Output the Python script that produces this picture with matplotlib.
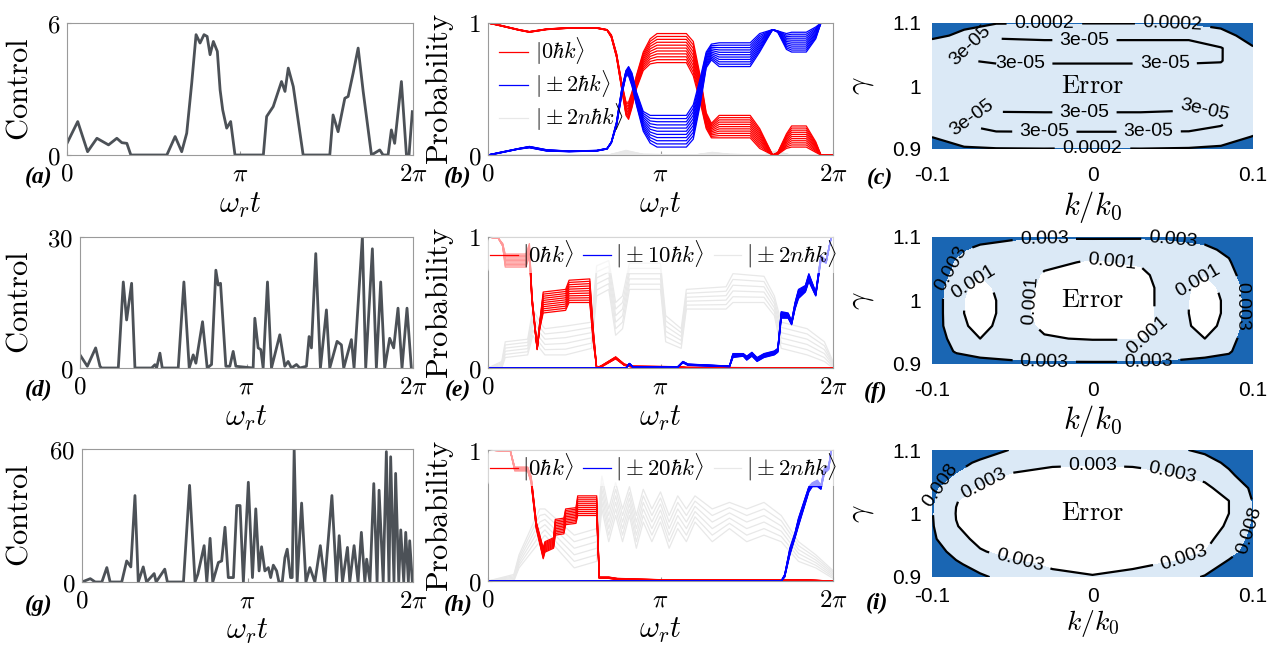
import numpy as np
import matplotlib
matplotlib.use("Agg")
import matplotlib.pyplot as plt
from matplotlib.lines import Line2D

plt.rcParams["mathtext.fontset"] = "cm"

# ---------------- control pulses (t in units of pi) ----------------
ctrl_a_t = [0, 0.062, 0.119, 0.173, 0.24, 0.288, 0.317, 0.346, 0.369, 0.577, 0.625, 0.663,
            0.692, 0.721, 0.746, 0.769, 0.792, 0.81, 0.827, 0.846, 0.869, 0.885, 0.9, 0.923,
            0.946, 0.971, 1.135, 1.154, 1.192, 1.24, 1.26, 1.279, 1.308, 1.365, 1.519, 1.538,
            1.567, 1.606, 1.625, 1.654, 1.683, 1.712, 1.76, 1.808, 1.827, 1.856, 1.875, 1.894,
            1.933, 1.962, 1.977, 1.996]
ctrl_a_v = [0.53, 1.52, 0.15, 0.76, 0.46, 0.76, 0.56, 0.53, 0, 0, 0.84, 0.15,
            0.99, 3.27, 5.47, 5.09, 5.47, 5.39, 4.56, 5.16, 4.71, 2.96, 2.05, 1.22,
            1.52, 0, 0, 1.75, 2.2, 3.34, 2.89, 3.95, 3.11, 0, 0, 1.82,
            1.06, 2.58, 2.66, 3.72, 4.86, 2.89, 0, 0.23, 0, 0, 1.14, 0.53,
            3.34, 0, 0, 1.97]

ctrl_d_t = [0, 0.044, 0.094, 0.12, 0.13, 0.23, 0.26, 0.28, 0.31, 0.33, 0.43, 0.45, 0.46,
            0.48, 0.494, 0.59, 0.624, 0.656, 0.68, 0.696, 0.736, 0.764, 0.79, 0.816, 0.83,
            0.844, 0.876, 0.9, 0.92, 0.936, 1.04, 1.05, 1.07, 1.086, 1.1, 1.126, 1.15, 1.2,
            1.23, 1.25, 1.27, 1.3, 1.32, 1.36, 1.376, 1.39, 1.416, 1.444, 1.48, 1.5, 1.544,
            1.57, 1.584, 1.63, 1.646, 1.696, 1.716, 1.756, 1.78, 1.806, 1.83, 1.86, 1.884,
            1.91, 1.934, 1.964, 1.99]
ctrl_d_v = [3.0, 0.4, 4.6, 0.4, 0, 0, 19.7, 11, 19.4, 0, 0, 0.76, 0,
            3.4, 0, 0, 19.7, 0, 3.0, 1.1, 10.6, 0, 0.8, 22.4, 19,
            19.4, 0.4, 0.4, 3.8, 0.4, 0, 11.4, 4.6, 4.2, 0, 19.7, 0, 7.6,
            0.4, 1.5, 0, 0.8, 0, 0.4, 7.2, 4.6, 26.2, 0, 13.3, 0, 6.1,
            5.3, 0, 6.5, 0, 30, 0, 27.3, 0, 19.7, 0, 6.8, 4.6,
            13.7, 0, 13.7, 0]

ctrl_g_t = [0, 0.05, 0.08, 0.12, 0.15, 0.17, 0.24, 0.27, 0.295, 0.32, 0.34, 0.37, 0.39,
            0.436, 0.448, 0.5, 0.516, 0.613, 0.65, 0.683, 0.7, 0.738, 0.754, 0.774, 0.79,
            0.824, 0.844, 0.864, 0.884, 0.915, 0.935, 0.955, 0.975, 1.005, 1.03, 1.05, 1.07,
            1.085, 1.105, 1.126, 1.14, 1.156, 1.176, 1.19, 1.21, 1.226, 1.24, 1.26, 1.27,
            1.282, 1.3, 1.327, 1.353, 1.377, 1.407, 1.44, 1.467, 1.51, 1.538, 1.554, 1.574,
            1.604, 1.618, 1.644, 1.668, 1.688, 1.709, 1.72, 1.74, 1.763, 1.783, 1.795, 1.82,
            1.839, 1.855, 1.865, 1.885, 1.895, 1.914, 1.926, 1.944, 1.956, 1.972, 1.98, 1.996]
ctrl_g_v = [0, 1.5, 0, 0, 6.5, 0, 0, 9.5, 6.8, 39, 0, 6.8, 0,
            3.8, 0, 5.8, 0, 0, 43.6, 0, 3.5, 16.4, 0, 19.7, 0,
            8.8, 9.5, 24.7, 2.0, 2.0, 34.5, 34.5, 0, 45, 2, 33, 5,
            15.9, 5, 6.5, 2, 7.6, 5, 0, 0, 11, 14.8, 2, 2,
            60, 0, 35.6, 0, 6.5, 0, 16.4, 0, 39, 0, 20.9, 0,
            15.6, 0, 16.4, 0, 22.4, 0, 10.3, 0, 44.4, 0, 41.4, 0,
            58.8, 0, 56.5, 0, 49, 0, 23.5, 0, 22.4, 0, 18.6, 0]

# ---------------- probability families: keypoints t/pi, lower and upper member ----------------
b_red_t = [0, 0.05, 0.18, 0.24, 0.34, 0.47, 0.63, 0.69, 0.715, 0.745, 0.775, 0.8, 0.815, 0.835,
           0.86, 0.9, 0.94, 0.98, 1.15, 1.19, 1.23, 1.265, 1.295, 1.34, 1.52, 1.575, 1.65,
           1.68, 1.73, 1.76, 1.845, 1.9, 1.93, 2.0]
b_red_lo = [1, 0.985, 0.945, 0.93, 0.95, 0.96, 0.96, 0.945, 0.89, 0.74, 0.5, 0.3, 0.27, 0.36,
            0.5, 0.64, 0.69, 0.7, 0.7, 0.6, 0.4, 0.2, 0.13, 0.13, 0.13, 0.05, 0.0,
            0.005, 0.05, 0.06, 0.06, 0.02, 0.0, 0.0]
b_red_hi = [1, 0.99, 0.95, 0.935, 0.955, 0.965, 0.965, 0.95, 0.91, 0.77, 0.55, 0.4, 0.4, 0.48,
            0.6, 0.78, 0.88, 0.92, 0.92, 0.86, 0.6, 0.32, 0.24, 0.3, 0.3, 0.2, 0.0,
            0.02, 0.16, 0.22, 0.22, 0.1, 0.0, 0.0]
b_blue_t = b_red_t
b_blue_lo = [0, 0.01, 0.045, 0.055, 0.03, 0.025, 0.03, 0.045, 0.09, 0.22, 0.45, 0.6, 0.6, 0.52,
             0.38, 0.18, 0.09, 0.06, 0.06, 0.12, 0.38, 0.66, 0.72, 0.67, 0.67, 0.78, 0.95,
             0.93, 0.8, 0.78, 0.78, 0.88, 1.0, 1.0]
b_blue_hi = [0, 0.015, 0.05, 0.065, 0.04, 0.03, 0.035, 0.05, 0.1, 0.25, 0.5, 0.64, 0.67, 0.62,
             0.48, 0.33, 0.3, 0.3, 0.3, 0.38, 0.58, 0.78, 0.84, 0.85, 0.85, 0.92, 0.95,
             0.94, 0.92, 0.93, 0.93, 0.97, 1.0, 1.0]
b_gray_t = [0, 0.7, 0.8, 0.9, 1.2, 1.3, 1.4, 1.6, 1.67, 1.75, 2.0]
b_gray_lo = [0, 0, 0, 0, 0, 0, 0, 0, 0, 0, 0]
b_gray_hi = [0, 0, 0.035, 0.005, 0, 0.02, 0.005, 0, 0.03, 0, 0]

e_red_t = [0, 0.06, 0.085, 0.1, 0.22, 0.24, 0.255, 0.285, 0.3, 0.32, 0.45, 0.47, 0.59, 0.61,
           0.63, 0.66, 0.74, 0.79, 0.84, 1.1, 1.15, 2.0]
e_red_lo = [1, 0.99, 0.93, 0.77, 0.77, 0.85, 0.5, 0.14, 0.3, 0.42, 0.44, 0.5, 0.5, 0.2,
            0.0, 0.01, 0.07, 0.02, 0.005, 0.005, 0.0, 0.0]
e_red_hi = [1, 0.99, 0.95, 0.87, 0.87, 0.95, 0.55, 0.16, 0.35, 0.58, 0.6, 0.67, 0.68, 0.3,
            0.0, 0.02, 0.085, 0.03, 0.015, 0.01, 0.005, 0.0]
e_blue_t = [0, 0.8, 0.82, 0.84, 1.1, 1.13, 1.16, 1.4, 1.42, 1.48, 1.5, 1.53, 1.56, 1.6, 1.66,
            1.68, 1.7, 1.74, 1.76, 1.78, 1.8, 1.84, 1.86, 1.9, 1.93, 1.96, 1.99, 2.0]
e_blue_lo = [0, 0, 0.03, 0.005, 0.005, 0.04, 0.02, 0.01, 0.08, 0.09, 0.06, 0.09, 0.05, 0.08, 0.1,
             0.12, 0.38, 0.38, 0.33, 0.45, 0.53, 0.58, 0.66, 0.55, 0.82, 0.8, 1.0, 1.0]
e_blue_hi = [0, 0, 0.035, 0.01, 0.01, 0.05, 0.03, 0.015, 0.11, 0.11, 0.09, 0.12, 0.08, 0.11, 0.13,
             0.15, 0.43, 0.42, 0.36, 0.5, 0.6, 0.63, 0.72, 0.58, 0.86, 0.82, 1.0, 1.0]
e_gray_t = [0, 0.08, 0.1, 0.23, 0.26, 0.3, 0.33, 0.45, 0.6, 0.63, 0.7, 0.74, 0.78, 0.82, 1.0,
            1.03, 1.12, 1.15, 1.38, 1.42, 1.6, 1.66, 1.7, 1.85, 1.95, 2.0]
e_gray_lo = [0, 0, 0.08, 0.1, 0.25, 0.15, 0.1, 0.1, 0.15, 0.55, 0.6, 0.25, 0.3, 0.6, 0.6,
             0.2, 0.15, 0.45, 0.45, 0.5, 0.5, 0.4, 0.15, 0.1, 0.05, 0.0]
e_gray_hi = [0, 0.05, 0.2, 0.22, 0.45, 0.35, 0.3, 0.32, 0.35, 0.78, 0.82, 0.5, 0.55, 0.8, 0.8,
             0.4, 0.3, 0.6, 0.62, 0.72, 0.7, 0.55, 0.35, 0.3, 0.2, 0.05]

h_red_t = [0, 0.13, 0.155, 0.23, 0.25, 0.28, 0.32, 0.33, 0.38, 0.39, 0.44, 0.45, 0.51, 0.52,
           0.63, 0.645, 0.7, 0.75, 1.0, 1.8, 2.0]
h_red_lo = [1, 0.99, 0.84, 0.84, 0.75, 0.4, 0.17, 0.22, 0.25, 0.35, 0.36, 0.43, 0.44, 0.5,
            0.5, 0.02, 0.02, 0.01, 0.005, 0.005, 0.0]
h_red_hi = [1, 0.99, 0.87, 0.87, 0.8, 0.45, 0.25, 0.3, 0.33, 0.47, 0.48, 0.55, 0.56, 0.65,
            0.65, 0.03, 0.03, 0.02, 0.01, 0.01, 0.0]
h_blue_t = [0, 1.7, 1.72, 1.75, 1.78, 1.8, 1.83, 1.86, 1.88, 1.91, 1.93, 1.95, 1.975, 1.99, 2.0]
h_blue_lo = [0, 0, 0.03, 0.2, 0.33, 0.42, 0.55, 0.68, 0.72, 0.72, 0.7, 0.82, 0.85, 1.0, 1.0]
h_blue_hi = [0, 0, 0.05, 0.25, 0.37, 0.48, 0.6, 0.72, 0.75, 0.77, 0.73, 0.86, 0.88, 1.0, 1.0]
h_gray_t = [0, 0.15, 0.18, 0.3, 0.33, 0.5, 0.63, 0.66, 0.7, 0.74, 0.78, 0.82, 0.86, 0.9, 0.95,
            1.0, 1.05, 1.1, 1.15, 1.2, 1.3, 1.4, 1.5, 1.6, 1.7, 1.8, 1.9, 2.0]
h_gray_lo = [0, 0, 0.1, 0.3, 0.35, 0.1, 0.15, 0.55, 0.3, 0.5, 0.3, 0.5, 0.25, 0.45, 0.3,
             0.45, 0.25, 0.4, 0.3, 0.45, 0.3, 0.4, 0.3, 0.35, 0.3, 0.15, 0.1, 0.02]
h_gray_hi = [0, 0.05, 0.2, 0.55, 0.55, 0.35, 0.4, 0.8, 0.55, 0.75, 0.55, 0.72, 0.5, 0.7, 0.55,
             0.68, 0.5, 0.65, 0.55, 0.65, 0.55, 0.6, 0.55, 0.6, 0.5, 0.3, 0.2, 0.08]

# ---------------- error maps ----------------
c_k = [-0.1, -0.08, -0.06, -0.03, 0, 0.03, 0.06, 0.08, 0.1]
c_g = [0.90, 0.92, 0.94, 0.96, 0.98, 1.00, 1.02, 1.04, 1.06, 1.08, 1.10]
c_err_1e5 = [
    [45, 26, 22, 21, 22, 21, 23, 30, 45],
    [19, 6, 4.5, 4.5, 4.5, 4.5, 4.6, 6, 21],
    [8, 2.8, 1.6, 1.5, 1.5, 1.5, 1.6, 2.6, 9],
    [9, 3.4, 3.1, 3.2, 3.2, 3.2, 2.9, 2.9, 9],
    [11, 6, 6, 6, 6, 6, 6, 6, 11],
    [12, 7, 7, 7, 7, 7, 7, 7, 12],
    [11, 5, 5, 5, 5, 5, 5, 5, 11],
    [8, 3.2, 2.6, 2.6, 2.6, 2.6, 2.6, 2.8, 10],
    [7, 2.8, 1.2, 1.2, 1.2, 1.2, 1.2, 2.7, 18],
    [30, 14, 4, 5, 5, 5, 5, 12, 35],
    [45, 30, 22, 21, 21, 21, 22, 30, 60],
]

f_k = [-0.1, -0.085, -0.07, -0.05, -0.03, 0, 0.03, 0.05, 0.07, 0.085, 0.1]
f_g = [0.90, 0.92, 0.94, 0.96, 0.98, 1.00, 1.02, 1.04, 1.06, 1.08, 1.10]
f_err_1e3 = [
    [6, 4.2, 3.6, 3.3, 3.2, 3.2, 3.2, 3.3, 3.6, 4.2, 6],
    [4.5, 2.8, 2.4, 2.3, 2.1, 2.0, 2.0, 2.2, 2.4, 2.7, 5],
    [4.5, 2.1, 1.0, 1.6, 1.1, 0.9, 0.9, 1.6, 1.0, 2.2, 4.5],
    [4.5, 1.3, 0.7, 1.5, 0.8, 0.5, 0.7, 1.4, 0.7, 1.3, 4.5],
    [4.5, 1.2, 0.6, 1.4, 0.7, 0.4, 0.7, 1.4, 0.6, 1.2, 4.5],
    [4.5, 1.2, 0.6, 1.4, 0.7, 0.4, 0.7, 1.4, 0.6, 1.2, 4.5],
    [4.5, 1.3, 0.7, 1.5, 0.8, 0.5, 0.7, 1.4, 0.7, 1.3, 4.5],
    [4.5, 2.3, 1.0, 1.6, 0.9, 0.6, 0.8, 1.5, 1.0, 2.3, 4.5],
    [4.5, 2.8, 2.0, 1.8, 1.2, 0.9, 1.1, 1.7, 2.0, 2.8, 5],
    [5, 3.3, 2.6, 2.4, 1.8, 1.3, 1.8, 2.4, 2.6, 3.4, 5.5],
    [6, 4.5, 3.6, 3.2, 3.2, 3.3, 3.2, 3.2, 3.6, 4.5, 6],
]

i_k = [-0.1, -0.085, -0.07, -0.05, -0.025, 0, 0.025, 0.05, 0.07, 0.085, 0.1]
i_g = [0.90, 0.92, 0.94, 0.96, 0.98, 1.00, 1.02, 1.04, 1.06, 1.08, 1.10]
i_err_1e3 = [
    [20, 14, 9, 5.5, 3.5, 3.1, 3.5, 5, 8.5, 13, 20],
    [15, 9, 5.5, 3.5, 2.7, 2.5, 2.7, 3.2, 4.5, 9.5, 15],
    [11, 6, 3.2, 2.2, 1.9, 1.8, 1.9, 2.2, 3.0, 5.5, 11],
    [9, 3.8, 2.4, 1.7, 1.5, 1.4, 1.5, 1.8, 2.4, 4.0, 9.5],
    [8.4, 3.1, 2.0, 1.5, 1.3, 1.2, 1.3, 1.6, 2.0, 3.3, 8.5],
    [8.2, 2.9, 1.9, 1.5, 1.3, 1.2, 1.3, 1.5, 1.9, 3.0, 8.1],
    [8.5, 3.1, 2.0, 1.6, 1.4, 1.3, 1.4, 1.6, 2.0, 3.0, 8.2],
    [9, 4.5, 2.6, 2.2, 1.8, 1.7, 1.8, 2.2, 2.5, 4.0, 9],
    [11, 7.5, 4.5, 2.5, 2.4, 2.3, 2.4, 2.7, 3.6, 7, 11],
    [15, 10, 7, 5, 3.3, 3.2, 3.3, 4, 6, 9, 14],
    [20, 15, 11, 7.6, 5, 4.2, 5, 7, 9, 13, 18],
]

# where the contour labels sit
c_label_at = [(-0.03, 1.099), (0.05, 1.099), (0.0, 0.902),
              (-0.075, 1.055), (-0.005, 1.068), (-0.045, 1.037), (0.045, 1.037),
              (-0.075, 0.945), (-0.005, 0.962), (0.07, 0.955), (-0.03, 0.927), (0.035, 0.927)]
f_label_at = [(-0.03, 1.095), (0.05, 1.093), (-0.088, 1.05), (0.091, 0.99),
              (-0.03, 0.906), (0.035, 0.906),
              (0.012, 1.063), (-0.04, 1.0), (0.035, 0.943), (-0.07, 1.02), (0.066, 1.03)]
i_label_at = [(0.0, 1.077), (0.05, 1.068), (-0.068, 1.048), (-0.045, 0.93), (0.055, 0.945),
              (-0.095, 1.045), (0.095, 0.975)]

W, H = 1276, 645
DARK = "#1a66b3"
LIGHT = "#dbe9f6"
CTRL = "#4c5157"
SPINE = "#9a9a9a"
GRAY = "#e8e8e8"

fig = plt.figure(figsize=(W / 100, H / 100), dpi=100)


def add_ax(x0, y0, x1, y1):
    return fig.add_axes([x0 / W, 1 - y1 / H, (x1 - x0) / W, (y1 - y0) / H])


def time_axis(ax, box, ytop, ylabel, ylab_x, xlab_top):
    x0, y0, x1, y1 = box
    ax.set_xlim(0, 2 * np.pi)
    ax.set_ylim(0, ytop)
    ax.set_xticks([0, np.pi, 2 * np.pi])
    ax.set_xticklabels(["$0$", r"$\pi$", r"$2\pi$"], fontsize=18)
    ax.set_yticks([0, ytop])
    ax.set_yticklabels(["$0$", f"${ytop}$"], fontsize=18)
    ax.tick_params(direction="in", length=3, color=SPINE, pad=5)
    ax.tick_params(axis="x", pad=5)
    for s in ax.spines.values():
        s.set_color(SPINE)
        s.set_linewidth(0.8)
    ax.set_ylabel(ylabel, fontsize=22)
    ax.yaxis.set_label_coords(ylab_x / W, 1 - (y0 + y1) / 2 / H, transform=fig.transFigure)
    ax.set_xlabel(r"$\omega_r t$", fontsize=22)
    ax.xaxis.set_label_coords((x0 + x1) / 2 / W, 1 - xlab_top / H, transform=fig.transFigure)


def family(ax, t, lo, hi, color, n=11, lw=0.9):
    t = np.asarray(t) * np.pi
    lo = np.asarray(lo)
    hi = np.asarray(hi)
    for j in range(n):
        f = j / (n - 1)
        ax.plot(t, lo + f * (hi - lo), color=color, lw=lw)


def error_axis(ax, box, ylab_x, xlab_top, xpad=12, xlab_size=22):
    x0, y0, x1, y1 = box
    ax.set_xlim(-0.1, 0.1)
    ax.set_ylim(0.9, 1.1)
    ax.set_xticks([-0.1, 0, 0.1])
    ax.set_xticklabels(["-0.1", "0", "0.1"], fontsize=15, family="Liberation Sans")
    ax.set_yticks([0.9, 1.0, 1.1])
    ax.set_yticklabels(["0.9", "1", "1.1"], fontsize=15, family="Liberation Sans")
    ax.tick_params(length=0, pad=8)
    ax.tick_params(axis="x", pad=xpad)
    for s in ax.spines.values():
        s.set_visible(False)
    ax.set_ylabel(r"$\gamma$", fontsize=22)
    ax.yaxis.set_label_coords(ylab_x / W, 1 - (y0 + y1) / 2 / H, transform=fig.transFigure)
    ax.set_xlabel(r"$k/k_0$", fontsize=xlab_size)
    ax.xaxis.set_label_coords((x0 + x1) / 2 / W, 1 - xlab_top / H, transform=fig.transFigure)
    ax.text(0, 1.0, r"$\mathrm{Error}$", ha="center", va="center", fontsize=19)


def error_map(ax, k, g, z, lines, fills, labels, where, log=False):
    K, G = np.meshgrid(k, g)
    Z = np.asarray(z, dtype=float)
    if log:
        Z = np.log10(Z)
        lines = list(np.log10(lines))
        fills = list(np.log10(fills))
    lv = [Z.min() - 1] + fills + [Z.max() + 1]
    cols = [LIGHT, DARK] if len(fills) == 1 else ["white", LIGHT, DARK]
    ax.contourf(K, G, Z, levels=lv, colors=cols)
    cs = ax.contour(K, G, Z, levels=lines, colors="k", linewidths=1.6, linestyles="solid")
    fmt = {lvl: lab for lvl, lab in zip(cs.levels, labels)}
    txts = ax.clabel(cs, fmt=fmt, fontsize=14, inline=True, inline_spacing=4, manual=where)
    for t in txts:
        t.set_fontfamily("Liberation Sans")
        t.set_clip_on(False)


def prob_legend(ax, labels):
    ax.legend(hl, labels, loc="upper left", bbox_to_anchor=(0.0, 1.0), ncol=3, fontsize=16.5,
              frameon=True, framealpha=0.6, edgecolor="none", facecolor="white",
              handlelength=1.2, handletextpad=0.2, columnspacing=0.4, borderaxespad=0.0,
              borderpad=0.1)


# ---------------- row 1 ----------------
box = (67, 23, 413, 155)
ax = add_ax(*box)
ax.plot(np.asarray(ctrl_a_t) * np.pi, ctrl_a_v, color=CTRL, lw=2)
time_axis(ax, box, 6, r"$\mathrm{Control}$", 34, 191)

box = (488, 23, 833, 155)
ax = add_ax(*box)
family(ax, b_gray_t, b_gray_lo, b_gray_hi, GRAY)
family(ax, b_red_t, b_red_lo, b_red_hi, "red")
family(ax, b_blue_t, b_blue_lo, b_blue_hi, "blue")
time_axis(ax, box, 1, r"$\mathrm{Probability}$", 456, 191)
hl = [Line2D([], [], color="red", lw=0.9), Line2D([], [], color="blue", lw=0.9),
      Line2D([], [], color=GRAY, lw=0.9)]
ax.legend(hl, [r"$|0\hbar k\rangle$", r"$|\pm 2\hbar k\rangle$", r"$|\pm 2n\hbar k\rangle$"],
          loc="upper left", bbox_to_anchor=(0.0, 0.99), frameon=False, fontsize=16,
          handlelength=1.3, handletextpad=0.3, labelspacing=0.05, borderaxespad=0.1)

box = (932, 23, 1253, 149)
ax = add_ax(*box)
error_map(ax, c_k, c_g, np.asarray(c_err_1e5) * 1e-5, [3e-5, 2e-4], [2e-4],
          ["3e-05", "0.0002"], c_label_at, log=True)
error_axis(ax, box, 876, 189)

# ---------------- row 2 ----------------
box = (80, 237, 413, 368)
ax = add_ax(*box)
ax.plot(np.asarray(ctrl_d_t) * np.pi, ctrl_d_v, color=CTRL, lw=2)
time_axis(ax, box, 30, r"$\mathrm{Control}$", 34, 404)

box = (488, 237, 833, 368)
ax = add_ax(*box)
family(ax, e_gray_t, e_gray_lo, e_gray_hi, GRAY, n=6)
family(ax, e_red_t, e_red_lo, e_red_hi, "red")
family(ax, e_blue_t, e_blue_lo, e_blue_hi, "blue")
time_axis(ax, box, 1, r"$\mathrm{Probability}$", 456, 404)
prob_legend(ax, [r"$|0\hbar k\rangle$", r"$|\pm 10\hbar k\rangle$", r"$|\pm 2n\hbar k\rangle$"])

box = (932, 237, 1253, 364)
ax = add_ax(*box)
error_map(ax, f_k, f_g, np.asarray(f_err_1e3) * 1e-3, [1e-3, 3e-3], [1e-3, 3e-3],
          ["0.001", "0.003"], f_label_at)
error_axis(ax, box, 876, 403)

# ---------------- row 3 ----------------
box = (82, 449, 413, 582)
ax = add_ax(*box)
ax.plot(np.asarray(ctrl_g_t) * np.pi, ctrl_g_v, color=CTRL, lw=2)
time_axis(ax, box, 60, r"$\mathrm{Control}$", 34, 617)

box = (488, 450, 833, 581)
ax = add_ax(*box)
family(ax, h_gray_t, h_gray_lo, h_gray_hi, GRAY, n=6)
family(ax, h_red_t, h_red_lo, h_red_hi, "red")
family(ax, h_blue_t, h_blue_lo, h_blue_hi, "blue")
time_axis(ax, box, 1, r"$\mathrm{Probability}$", 456, 616)
prob_legend(ax, [r"$|0\hbar k\rangle$", r"$|\pm 20\hbar k\rangle$", r"$|\pm 2n\hbar k\rangle$"])

box = (932, 450, 1253, 577)
ax = add_ax(*box)
error_map(ax, i_k, i_g, np.asarray(i_err_1e3) * 1e-3, [3e-3, 8e-3], [3e-3, 8e-3],
          ["0.003", "0.008"], i_label_at)
error_axis(ax, box, 876, 608, xpad=7, xlab_size=20)

# ---------------- panel labels ----------------
panel_pos = {"(a)": (39, 177), "(b)": (458, 177), "(c)": (880, 178),
             "(d)": (39, 390), "(e)": (458, 390), "(f)": (876, 392),
             "(g)": (39, 605), "(h)": (458, 605), "(i)": (877, 603)}
for lab, (px, py) in panel_pos.items():
    fig.text(px / W, 1 - py / H, lab, ha="center", va="center", fontsize=17,
             family="Liberation Serif", style="italic", weight="bold")

fig.savefig("out.png", dpi=100)
